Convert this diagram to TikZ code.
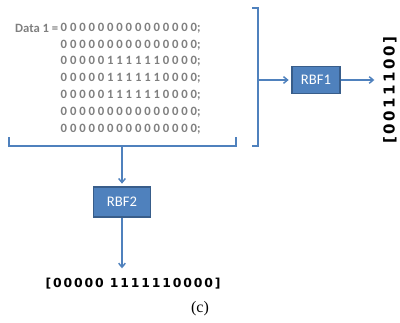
\documentclass[tikz,border=0pt]{standalone}
\usepackage{fontspec}
\setmainfont{Carlito}
\newfontfamily\bitsfont{DejaVu Sans}
\newfontfamily\capfont{Liberation Serif}
\usetikzlibrary{arrows.meta}
\definecolor{rbfblue}{HTML}{4F81BD}
\definecolor{rbfedge}{HTML}{385D8A}
\definecolor{datagray}{HTML}{7F7F7F}

\begin{document}
\begin{tikzpicture}[x=0.75pt,y=0.75pt,
  line width=1.1pt,
  brace/.style={draw=rbfblue},
  flow/.style={draw=rbfblue,-{Straight Barb[length=3pt,width=5pt]},shorten >=2pt}]
  \tikzstyle{row} = [anchor=west,inner sep=0pt,font=\fontsize{9.5}{10}\selectfont\bfseries,color=datagray]
  \tikzstyle{rbf} = [draw=rbfedge,fill=rbfblue,line width=1pt,font=\fontsize{11}{12}\selectfont,text=white]
  \useasboundingbox (0,0) rectangle (400,322);
  % data matrix
  \node (label) [row,anchor=east] at (59,294) {Data 1 =};
  \foreach \i/\bits in {1/{0 0 0 0 0 0 0 0 0 0 0 0 0 0 0},
                        2/{0 0 0 0 0 0 0 0 0 0 0 0 0 0 0},
                        3/{0 0 0 0 0 1 1 1 1 1 1 0 0 0 0},
                        4/{0 0 0 0 0 1 1 1 1 1 1 0 0 0 0},
                        5/{0 0 0 0 0 1 1 1 1 1 1 0 0 0 0},
                        6/{0 0 0 0 0 0 0 0 0 0 0 0 0 0 0},
                        7/{0 0 0 0 0 0 0 0 0 0 0 0 0 0 0}}
    \node (row\i) [row] at (60,{294-16.8*(\i-1)}) {\bits;};
  % braces
  \coordinate (bmid) at (122,176);
  \coordinate (rmid) at (258,242);
  \draw[brace] (9,185) -- (9,176) -- (236,176) -- (236,185);
  \draw[brace] (252,314) -- (258,314) -- (258,176) -- (252,176);
  % classifiers
  \node (rbf1) [rbf,minimum width=48*0.75pt,minimum height=27*0.75pt] at (316,242) {RBF1};
  \node (rbf2) [rbf,minimum width=57*0.75pt,minimum height=30*0.75pt] at (122,120) {RBF2};
  \coordinate (out1) at (377,242);
  \coordinate (out2) at (122,51);
  \draw[flow] (rmid) -- (rbf1);
  \draw[flow] (rbf1) -- (out1);
  \draw[flow] (bmid) -- (rbf2);
  \draw[flow] (rbf2) -- (out2);
  % outputs
  \node (vec1) [rotate=90,inner sep=0pt,font=\bitsfont\fontsize{11.3}{12}\selectfont\bfseries\addfontfeature{LetterSpace=17}] at (390,232) {[0011100]};
  \node (vec2) [inner sep=0pt,font=\bitsfont\fontsize{9.3}{10}\selectfont\bfseries\addfontfeature{LetterSpace=15}] at (133,38) {[00000 1111110000]};
  \node (cap) [font=\capfont\fontsize{12}{13}\selectfont] at (200,13) {(c)};
\end{tikzpicture}
\end{document}
